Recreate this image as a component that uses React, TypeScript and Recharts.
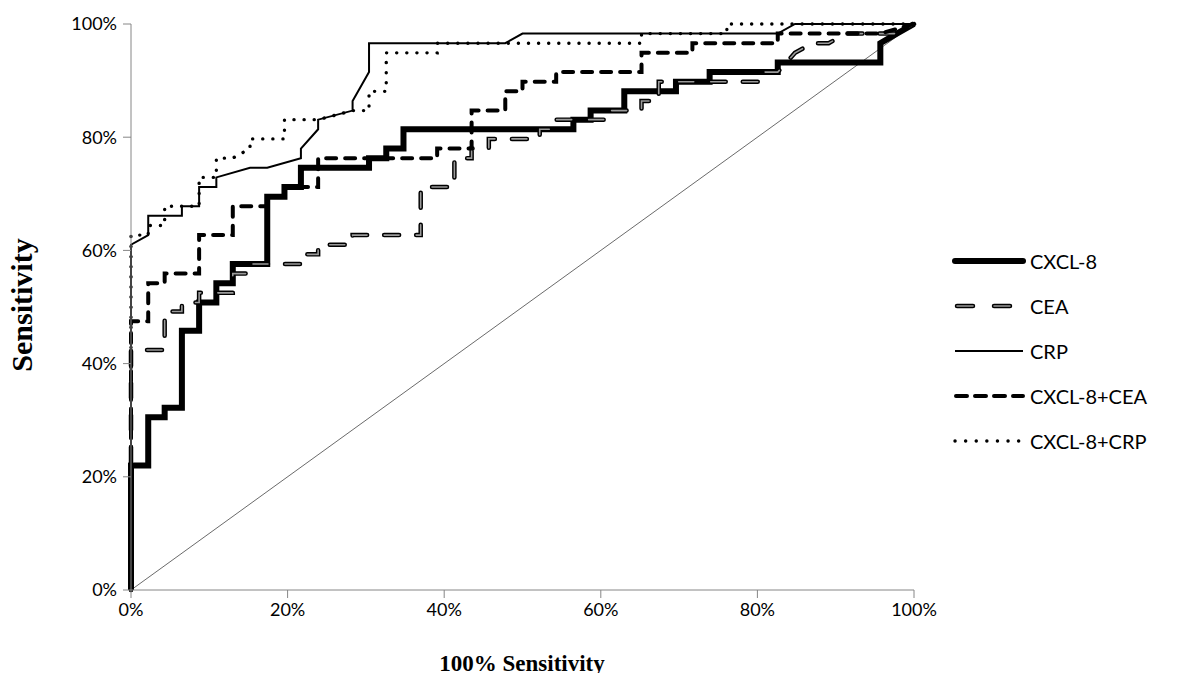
import { LineChart, Line, XAxis, YAxis } from 'recharts'

// ROC step curves, x = 100% - specificity (%), y = sensitivity (%)
const CXCL8 = [
  [0, 0], [0, 22], [2.2, 22], [2.2, 30.5], [4.3, 30.5], [4.3, 32.2], [6.5, 32.2], [6.5, 45.8],
  [8.7, 45.8], [8.7, 50.8], [10.9, 50.8], [10.9, 54.2], [13, 54.2], [13, 57.6], [17.4, 57.6],
  [17.4, 69.5], [19.6, 69.5], [19.6, 71.2], [21.7, 71.2], [21.7, 74.6], [30.4, 74.6], [30.4, 76.3],
  [32.6, 76.3], [32.6, 78], [34.8, 78], [34.8, 81.4], [56.5, 81.4], [56.5, 83.1], [58.7, 83.1],
  [58.7, 84.7], [63, 84.7], [63, 88.1], [69.6, 88.1], [69.6, 89.8], [73.9, 89.8], [73.9, 91.5],
  [82.6, 91.5], [82.6, 93.2], [95.7, 93.2], [95.7, 96.6], [97.8, 98.3], [100, 100],
]

const CEA = [
  [0, 0], [0, 42.4], [4.3, 42.4], [4.3, 49.2], [6.5, 49.2], [6.5, 50.8], [8.7, 50.8], [8.7, 52.5],
  [13, 52.5], [13, 55.9], [15.2, 55.9], [15.2, 57.6], [21.7, 57.6], [21.7, 59.3], [23.9, 59.3],
  [23.9, 61], [28.3, 61], [28.3, 62.7], [37, 62.7], [37, 71.2], [41.3, 71.2], [41.3, 76.3],
  [43.5, 76.3], [43.5, 78], [45.7, 78], [45.7, 79.7], [52.2, 79.7], [52.2, 81.4], [54.3, 81.4],
  [54.3, 83.1], [60.9, 83.1], [60.9, 84.7], [65.2, 84.7], [65.2, 86.4], [67.4, 86.4], [67.4, 89.8],
  [80.4, 89.8], [80.4, 91.5], [82.6, 91.5], [84.8, 94.9], [87, 96.6], [89.1, 96.6], [91.3, 98.3],
  [97.8, 98.3], [100, 100],
]

const CRP = [
  [0, 0], [0, 61], [2.2, 62.7], [2.2, 66.1], [6.5, 66.1], [6.5, 67.8], [8.7, 67.8], [8.7, 71.2],
  [10.9, 71.2], [10.9, 72.9], [15.2, 74.6], [17.4, 74.6], [21.7, 76.3], [21.7, 78], [23.9, 81.4],
  [23.9, 83.1], [28.3, 84.7], [28.3, 86.4], [30.4, 91.5], [30.4, 96.6], [47.8, 96.6], [50, 98.3],
  [82.6, 98.3], [84.8, 100], [100, 100],
]

const CXCL8_CEA = [
  [0, 0], [0, 47.5], [2.2, 47.5], [2.2, 54.2], [4.3, 54.2], [4.3, 55.9], [8.7, 55.9], [8.7, 62.7],
  [13, 62.7], [13, 67.8], [17.4, 67.8], [17.4, 69.5], [19.6, 69.5], [19.6, 71.2], [23.9, 71.2],
  [23.9, 76.3], [39.1, 76.3], [39.1, 78], [43.5, 78], [43.5, 84.7], [47.8, 84.7], [47.8, 88.1],
  [50, 88.1], [50, 89.8], [54.3, 89.8], [54.3, 91.5], [65.2, 91.5], [65.2, 94.9], [71.7, 94.9],
  [71.7, 96.6], [82.6, 96.6], [82.6, 98.3], [95.7, 98.3], [100, 100],
]

const CXCL8_CRP = [
  [0, 0], [0, 62.7], [2.2, 62.7], [2.2, 64.4], [4.3, 64.4], [4.3, 67.8], [8.7, 67.8], [8.7, 72.9],
  [10.9, 72.9], [10.9, 76.3], [13, 76.3], [15.2, 78], [15.2, 79.7], [19.6, 79.7], [19.6, 83.1],
  [23.9, 83.1], [28.3, 84.7], [30.4, 84.7], [30.4, 88.1], [32.6, 88.1], [32.6, 94.9], [39.1, 94.9],
  [39.1, 96.6], [65.2, 96.6], [65.2, 98.3], [76.1, 98.3], [76.1, 100], [100, 100],
]

const REFERENCE = [[0, 0], [100, 100]]

const TICKS = [0, 20, 40, 60, 80, 100]

const toPoints = (arr: number[][]) => arr.map(([x, y]) => ({ x, y }))

const FONT = 'Lato, "Open Sans", sans-serif'
const SERIF = '"Liberation Serif", "Times New Roman", serif'
const AXIS_GREY = '#868686'

const LEGEND = [
  { name: 'CXCL-8', kind: 'thick' },
  { name: 'CEA', kind: 'double' },
  { name: 'CRP', kind: 'thin' },
  { name: 'CXCL-8+CEA', kind: 'dash' },
  { name: 'CXCL-8+CRP', kind: 'dot' },
]

function LegendSample({ kind }: { kind: string }) {
  const y = 8
  return (
    <svg width={76} height={16} style={{ display: 'block' }}>
      {kind === 'thick' && <line x1={3} x2={71} y1={y} y2={y} stroke="#000" strokeWidth={6} strokeLinecap="round" />}
      {kind === 'double' && (
        <g>
          <line x1={5} x2={58} y1={y} y2={y} stroke="#000" strokeWidth={4.5} strokeDasharray="16 21" strokeLinecap="round" />
          <line x1={5} x2={58} y1={y} y2={y} stroke="#9a9a9a" strokeWidth={1.6} strokeDasharray="16 21" strokeLinecap="round" />
        </g>
      )}
      {kind === 'thin' && <line x1={3} x2={71} y1={y} y2={y} stroke="#000" strokeWidth={2} />}
      {kind === 'dash' && <line x1={4} x2={71} y1={y} y2={y} stroke="#000" strokeWidth={4} strokeDasharray="11 8" strokeLinecap="round" />}
      {kind === 'dot' && <line x1={3} x2={71} y1={y} y2={y} stroke="#000" strokeWidth={3.4} strokeDasharray="0.1 10.5" strokeLinecap="round" />}
    </svg>
  )
}

export default function App() {
  return (
    <div style={{ position: 'relative', width: 1168, height: 665, fontFamily: FONT }}>
      <LineChart width={1168} height={665} margin={{ top: 16, right: 262, bottom: 43, left: 40 }}>
        <XAxis
          type="number"
          dataKey="x"
          domain={[0, 100]}
          ticks={TICKS}
          tickFormatter={(v) => `${v}%`}
          stroke={AXIS_GREY}
          tickSize={8}
          tickMargin={5}
          height={40}
          tick={{ fill: '#000', fontSize: 18, fontFamily: FONT }}
        />
        <YAxis
          type="number"
          dataKey="y"
          domain={[0, 100]}
          ticks={TICKS}
          tickFormatter={(v) => `${v}%`}
          stroke={AXIS_GREY}
          tickSize={8}
          tickMargin={6}
          width={83}
          tick={{ fill: '#000', fontSize: 18, fontFamily: FONT }}
        />
        <Line data={toPoints(REFERENCE)} dataKey="y" type="linear" stroke="#444" strokeWidth={0.8} dot={false} isAnimationActive={false} />
        <Line data={toPoints(CXCL8)} dataKey="y" type="linear" stroke="#000" strokeWidth={6} dot={false} isAnimationActive={false} />
        <Line data={toPoints(CEA)} dataKey="y" type="linear" stroke="#000" strokeWidth={4.5} strokeDasharray="15 17" strokeLinecap="round" dot={false} isAnimationActive={false} />
        <Line data={toPoints(CEA)} dataKey="y" type="linear" stroke="#9a9a9a" strokeWidth={1.6} strokeDasharray="15 17" strokeLinecap="round" dot={false} isAnimationActive={false} />
        <Line data={toPoints(CRP)} dataKey="y" type="linear" stroke="#000" strokeWidth={2} dot={false} isAnimationActive={false} />
        <Line data={toPoints(CXCL8_CEA)} dataKey="y" type="linear" stroke="#000" strokeWidth={4} strokeDasharray="10 9" strokeLinecap="round" dot={false} isAnimationActive={false} />
        <Line data={toPoints(CXCL8_CRP)} dataKey="y" type="linear" stroke="#000" strokeWidth={3.4} strokeDasharray="0.1 10" strokeLinecap="round" dot={false} isAnimationActive={false} />
      </LineChart>

      {/* axis titles */}
      <div style={{ position: 'absolute', left: 14, top: 297, width: 0, height: 0 }}>
        <div style={{
          position: 'absolute', transform: 'translate(-50%, -50%) rotate(-90deg)', whiteSpace: 'nowrap',
          fontFamily: SERIF, fontWeight: 'bold', fontSize: 30,
        }}>Sensitivity</div>
      </div>
      <div style={{
        position: 'absolute', left: 514, top: 656, transform: 'translate(-50%, -50%)', whiteSpace: 'nowrap',
        fontFamily: SERIF, fontWeight: 'bold', fontSize: 23,
      }}>100% Sensitivity</div>

      {/* legend */}
      <div style={{ position: 'absolute', left: 944, top: 230 }}>
        {LEGEND.map((item) => (
          <div key={item.name} style={{ display: 'flex', alignItems: 'center', height: 45 }}>
            <LegendSample kind={item.kind} />
            <span style={{ fontSize: 20, marginLeft: 2, color: '#000' }}>{item.name}</span>
          </div>
        ))}
      </div>
    </div>
  )
}
